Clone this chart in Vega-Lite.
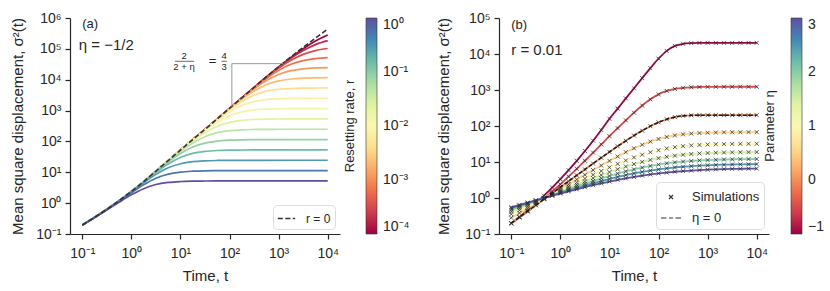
{
"$schema":"https://vega.github.io/schema/vega-lite/v6.json",
"padding":{"left":10,"top":11,"right":2,"bottom":2},
"config":{"font":"Liberation Sans","view":{"stroke":null},
"axis":{"grid":false,"domainColor":"#262626","tickColor":"#262626","labelColor":"#262626","titleColor":"#262626","labelFontSize":14,"titleFontSize":15,"titleFontWeight":"normal","tickSize":5,"labelPadding":4,"domainWidth":1.2,"tickWidth":1.2,"labelFlush":false,"labelOverlap":false},
"axisX":{"titlePadding":8,"labelPadding":7},
"axisY":{"titlePadding":10},
"legend":{"labelColor":"#262626","titleColor":"#262626","titleFontWeight":"normal"}},
"datasets":{
"a":[
{"r":0.0001,"t":0.1,"y":0.195},{"r":0.0001,"t":0.1778,"y":0.347},{"r":0.0001,"t":0.3162,"y":0.631},{"r":0.0001,"t":0.5623,"y":1.202},{"r":0.0001,"t":1,"y":2.399},{"r":0.0001,"t":1.778,"y":5.012},{"r":0.0001,"t":3.162,"y":10.96},{"r":0.0001,"t":5.623,"y":23.99},{"r":0.0001,"t":10,"y":52.48},{"r":0.0001,"t":17.78,"y":114.8},{"r":0.0001,"t":31.62,"y":245.5},{"r":0.0001,"t":56.23,"y":537.0},{"r":0.0001,"t":100,"y":1175},{"r":0.0001,"t":177.8,"y":2570},{"r":0.0001,"t":316.2,"y":5610},{"r":0.0001,"t":562.3,"y":12220},{"r":0.0001,"t":1000,"y":25820},{"r":0.0001,"t":1778,"y":52600},{"r":0.0001,"t":3162,"y":101400},{"r":0.0001,"t":5623,"y":179500},{"r":0.0001,"t":10000,"y":280500},
{"r":0.0001848,"t":0.1,"y":0.195},{"r":0.0001848,"t":0.1778,"y":0.347},{"r":0.0001848,"t":0.3162,"y":0.631},{"r":0.0001848,"t":0.5623,"y":1.202},{"r":0.0001848,"t":1,"y":2.399},{"r":0.0001848,"t":1.778,"y":5.012},{"r":0.0001848,"t":3.162,"y":10.96},{"r":0.0001848,"t":5.623,"y":23.99},{"r":0.0001848,"t":10,"y":52.48},{"r":0.0001848,"t":17.78,"y":114.8},{"r":0.0001848,"t":31.62,"y":245.5},{"r":0.0001848,"t":56.23,"y":537.0},{"r":0.0001848,"t":100,"y":1175},{"r":0.0001848,"t":177.8,"y":2564},{"r":0.0001848,"t":316.2,"y":5572},{"r":0.0001848,"t":562.3,"y":12080},{"r":0.0001848,"t":1000,"y":25120},{"r":0.0001848,"t":1778,"y":49320},{"r":0.0001848,"t":3162,"y":88100},{"r":0.0001848,"t":5623,"y":137400},{"r":0.0001848,"t":10000,"y":184100},
{"r":0.0003415,"t":0.1,"y":0.195},{"r":0.0003415,"t":0.1778,"y":0.347},{"r":0.0003415,"t":0.3162,"y":0.631},{"r":0.0003415,"t":0.5623,"y":1.202},{"r":0.0003415,"t":1,"y":2.399},{"r":0.0003415,"t":1.778,"y":5.012},{"r":0.0003415,"t":3.162,"y":10.96},{"r":0.0003415,"t":5.623,"y":23.99},{"r":0.0003415,"t":10,"y":52.48},{"r":0.0003415,"t":17.78,"y":114.8},{"r":0.0003415,"t":31.62,"y":245.5},{"r":0.0003415,"t":56.23,"y":537.0},{"r":0.0003415,"t":100,"y":1172},{"r":0.0003415,"t":177.8,"y":2553},{"r":0.0003415,"t":316.2,"y":5521},{"r":0.0003415,"t":562.3,"y":11750},{"r":0.0003415,"t":1000,"y":23500},{"r":0.0003415,"t":1778,"y":42460},{"r":0.0003415,"t":3162,"y":66220},{"r":0.0003415,"t":5623,"y":88100},{"r":0.0003415,"t":10000,"y":102800},
{"r":0.000631,"t":0.1,"y":0.195},{"r":0.000631,"t":0.1778,"y":0.347},{"r":0.000631,"t":0.3162,"y":0.631},{"r":0.000631,"t":0.5623,"y":1.202},{"r":0.000631,"t":1,"y":2.399},{"r":0.000631,"t":1.778,"y":5.012},{"r":0.000631,"t":3.162,"y":10.96},{"r":0.000631,"t":5.623,"y":23.99},{"r":0.000631,"t":10,"y":52.48},{"r":0.000631,"t":17.78,"y":114.8},{"r":0.000631,"t":31.62,"y":245.5},{"r":0.000631,"t":56.23,"y":535.8},{"r":0.000631,"t":100,"y":1167},{"r":0.000631,"t":177.8,"y":2523},{"r":0.000631,"t":316.2,"y":5370},{"r":0.000631,"t":562.3,"y":10960},{"r":0.000631,"t":1000,"y":20090},{"r":0.000631,"t":1778,"y":31550},{"r":0.000631,"t":3162,"y":41780},{"r":0.000631,"t":5623,"y":48310},{"r":0.000631,"t":10000,"y":51880},
{"r":0.001166,"t":0.1,"y":0.195},{"r":0.001166,"t":0.1778,"y":0.347},{"r":0.001166,"t":0.3162,"y":0.631},{"r":0.001166,"t":0.5623,"y":1.202},{"r":0.001166,"t":1,"y":2.399},{"r":0.001166,"t":1.778,"y":5.012},{"r":0.001166,"t":3.162,"y":10.96},{"r":0.001166,"t":5.623,"y":23.99},{"r":0.001166,"t":10,"y":52.48},{"r":0.001166,"t":17.78,"y":114.8},{"r":0.001166,"t":31.62,"y":244.9},{"r":0.001166,"t":56.23,"y":533.3},{"r":0.001166,"t":100,"y":1156},{"r":0.001166,"t":177.8,"y":2460},{"r":0.001166,"t":316.2,"y":5023},{"r":0.001166,"t":562.3,"y":9397},{"r":0.001166,"t":1000,"y":14830},{"r":0.001166,"t":1778,"y":19630},{"r":0.001166,"t":3162,"y":22590},{"r":0.001166,"t":5623,"y":24150},{"r":0.001166,"t":10000,"y":24830},
{"r":0.002154,"t":0.1,"y":0.195},{"r":0.002154,"t":0.1778,"y":0.347},{"r":0.002154,"t":0.3162,"y":0.631},{"r":0.002154,"t":0.5623,"y":1.202},{"r":0.002154,"t":1,"y":2.399},{"r":0.002154,"t":1.778,"y":5.012},{"r":0.002154,"t":3.162,"y":10.96},{"r":0.002154,"t":5.623,"y":23.99},{"r":0.002154,"t":10,"y":52.48},{"r":0.002154,"t":17.78,"y":114.6},{"r":0.002154,"t":31.62,"y":243.8},{"r":0.002154,"t":56.23,"y":528.4},{"r":0.002154,"t":100,"y":1125},{"r":0.002154,"t":177.8,"y":2296},{"r":0.002154,"t":316.2,"y":4295},{"r":0.002154,"t":562.3,"y":6887},{"r":0.002154,"t":1000,"y":9162},{"r":0.002154,"t":1778,"y":10540},{"r":0.002154,"t":3162,"y":11220},{"r":0.002154,"t":5623,"y":11510},{"r":0.002154,"t":10000,"y":11640},
{"r":0.003981,"t":0.1,"y":0.195},{"r":0.003981,"t":0.1778,"y":0.347},{"r":0.003981,"t":0.3162,"y":0.631},{"r":0.003981,"t":0.5623,"y":1.202},{"r":0.003981,"t":1,"y":2.399},{"r":0.003981,"t":1.778,"y":5.012},{"r":0.003981,"t":3.162,"y":10.96},{"r":0.003981,"t":5.623,"y":23.99},{"r":0.003981,"t":10,"y":52.36},{"r":0.003981,"t":17.78,"y":114.0},{"r":0.003981,"t":31.62,"y":241.5},{"r":0.003981,"t":56.23,"y":514.0},{"r":0.003981,"t":100,"y":1052},{"r":0.003981,"t":177.8,"y":1972},{"r":0.003981,"t":316.2,"y":3170},{"r":0.003981,"t":562.3,"y":4246},{"r":0.003981,"t":1000,"y":4898},{"r":0.003981,"t":1778,"y":5200},{"r":0.003981,"t":3162,"y":5333},{"r":0.003981,"t":5623,"y":5383},{"r":0.003981,"t":10000,"y":5408},
{"r":0.007356,"t":0.1,"y":0.195},{"r":0.007356,"t":0.1778,"y":0.347},{"r":0.007356,"t":0.3162,"y":0.631},{"r":0.007356,"t":0.5623,"y":1.202},{"r":0.007356,"t":1,"y":2.399},{"r":0.007356,"t":1.778,"y":5.012},{"r":0.007356,"t":3.162,"y":10.96},{"r":0.007356,"t":5.623,"y":23.93},{"r":0.007356,"t":10,"y":52.12},{"r":0.007356,"t":17.78,"y":113.0},{"r":0.007356,"t":31.62,"y":235.0},{"r":0.007356,"t":56.23,"y":482.0},{"r":0.007356,"t":100,"y":905.7},{"r":0.007356,"t":177.8,"y":1459},{"r":0.007356,"t":316.2,"y":1959},{"r":0.007356,"t":562.3,"y":2270},{"r":0.007356,"t":1000,"y":2410},{"r":0.007356,"t":1778,"y":2472},{"r":0.007356,"t":3162,"y":2495},{"r":0.007356,"t":5623,"y":2506},{"r":0.007356,"t":10000,"y":2512},
{"r":0.01359,"t":0.1,"y":0.195},{"r":0.01359,"t":0.1778,"y":0.347},{"r":0.01359,"t":0.3162,"y":0.631},{"r":0.01359,"t":0.5623,"y":1.202},{"r":0.01359,"t":1,"y":2.399},{"r":0.01359,"t":1.778,"y":5.012},{"r":0.01359,"t":3.162,"y":10.94},{"r":0.01359,"t":5.623,"y":23.82},{"r":0.01359,"t":10,"y":51.64},{"r":0.01359,"t":17.78,"y":109.9},{"r":0.01359,"t":31.62,"y":220.3},{"r":0.01359,"t":56.23,"y":415.0},{"r":0.01359,"t":100,"y":669.9},{"r":0.01359,"t":177.8,"y":903.6},{"r":0.01359,"t":316.2,"y":1047},{"r":0.01359,"t":562.3,"y":1114},{"r":0.01359,"t":1000,"y":1143},{"r":0.01359,"t":1778,"y":1153},{"r":0.01359,"t":3162,"y":1159},{"r":0.01359,"t":10000,"y":1161},
{"r":0.02512,"t":0.1,"y":0.195},{"r":0.02512,"t":0.1778,"y":0.347},{"r":0.02512,"t":0.3162,"y":0.631},{"r":0.02512,"t":0.5623,"y":1.202},{"r":0.02512,"t":1,"y":2.399},{"r":0.02512,"t":1.778,"y":5.0},{"r":0.02512,"t":3.162,"y":10.89},{"r":0.02512,"t":5.623,"y":23.61},{"r":0.02512,"t":10,"y":50.23},{"r":0.02512,"t":17.78,"y":103.0},{"r":0.02512,"t":31.62,"y":190.1},{"r":0.02512,"t":56.23,"y":308.3},{"r":0.02512,"t":100,"y":415.9},{"r":0.02512,"t":177.8,"y":483.1},{"r":0.02512,"t":316.2,"y":515.2},{"r":0.02512,"t":562.3,"y":528.4},{"r":0.02512,"t":1000,"y":533.3},{"r":0.02512,"t":1778,"y":535.8},{"r":0.02512,"t":10000,"y":537.0},
{"r":0.04642,"t":0.1,"y":0.195},{"r":0.04642,"t":0.1778,"y":0.347},{"r":0.04642,"t":0.3162,"y":0.631},{"r":0.04642,"t":0.5623,"y":1.202},{"r":0.04642,"t":1,"y":2.393},{"r":0.04642,"t":1.778,"y":4.977},{"r":0.04642,"t":3.162,"y":10.79},{"r":0.04642,"t":5.623,"y":23.01},{"r":0.04642,"t":10,"y":47.1},{"r":0.04642,"t":17.78,"y":88.72},{"r":0.04642,"t":31.62,"y":141.6},{"r":0.04642,"t":56.23,"y":191.9},{"r":0.04642,"t":100,"y":222.8},{"r":0.04642,"t":177.8,"y":238.2},{"r":0.04642,"t":316.2,"y":244.3},{"r":0.04642,"t":562.3,"y":246.6},{"r":0.04642,"t":1000,"y":247.7},{"r":0.04642,"t":10000,"y":248.3},
{"r":0.08577,"t":0.1,"y":0.195},{"r":0.08577,"t":0.1778,"y":0.347},{"r":0.08577,"t":0.3162,"y":0.631},{"r":0.08577,"t":0.5623,"y":1.198},{"r":0.08577,"t":1,"y":2.382},{"r":0.08577,"t":1.778,"y":4.932},{"r":0.08577,"t":3.162,"y":10.52},{"r":0.08577,"t":5.623,"y":21.58},{"r":0.08577,"t":10,"y":40.64},{"r":0.08577,"t":17.78,"y":65.92},{"r":0.08577,"t":31.62,"y":88.51},{"r":0.08577,"t":56.23,"y":103.0},{"r":0.08577,"t":100,"y":109.9},{"r":0.08577,"t":177.8,"y":113.0},{"r":0.08577,"t":316.2,"y":114.0},{"r":0.08577,"t":562.3,"y":114.6},{"r":0.08577,"t":10000,"y":114.8},
{"r":0.1585,"t":0.1,"y":0.195},{"r":0.1585,"t":0.1778,"y":0.346},{"r":0.1585,"t":0.3162,"y":0.629},{"r":0.1585,"t":0.5623,"y":1.193},{"r":0.1585,"t":1,"y":2.358},{"r":0.1585,"t":1.778,"y":4.808},{"r":0.1585,"t":3.162,"y":9.886},{"r":0.1585,"t":5.623,"y":18.66},{"r":0.1585,"t":10,"y":30.27},{"r":0.1585,"t":17.78,"y":41.02},{"r":0.1585,"t":31.62,"y":47.53},{"r":0.1585,"t":56.23,"y":50.82},{"r":0.1585,"t":100,"y":52.24},{"r":0.1585,"t":177.8,"y":52.72},{"r":0.1585,"t":316.2,"y":52.97},{"r":0.1585,"t":10000,"y":53.09},
{"r":0.2929,"t":0.1,"y":0.195},{"r":0.2929,"t":0.1778,"y":0.345},{"r":0.2929,"t":0.3162,"y":0.625},{"r":0.2929,"t":0.5623,"y":1.18},{"r":0.2929,"t":1,"y":2.299},{"r":0.2929,"t":1.778,"y":4.529},{"r":0.2929,"t":3.162,"y":8.551},{"r":0.2929,"t":5.623,"y":13.93},{"r":0.2929,"t":10,"y":18.92},{"r":0.2929,"t":17.78,"y":22.03},{"r":0.2929,"t":31.62,"y":23.5},{"r":0.2929,"t":56.23,"y":24.15},{"r":0.2929,"t":100,"y":24.38},{"r":0.2929,"t":177.8,"y":24.49},{"r":0.2929,"t":10000,"y":24.55},
{"r":0.5412,"t":0.1,"y":0.194},{"r":0.5412,"t":0.1778,"y":0.343},{"r":0.5412,"t":0.3162,"y":0.617},{"r":0.5412,"t":0.5623,"y":1.147},{"r":0.5412,"t":1,"y":2.153},{"r":0.5412,"t":1.778,"y":3.917},{"r":0.5412,"t":3.162,"y":6.397},{"r":0.5412,"t":5.623,"y":8.71},{"r":0.5412,"t":10,"y":10.16},{"r":0.5412,"t":17.78,"y":10.86},{"r":0.5412,"t":31.62,"y":11.17},{"r":0.5412,"t":56.23,"y":11.27},{"r":0.5412,"t":100,"y":11.32},{"r":0.5412,"t":10000,"y":11.35},
{"r":1,"t":0.1,"y":0.192},{"r":1,"t":0.1778,"y":0.338},{"r":1,"t":0.3162,"y":0.597},{"r":1,"t":0.5623,"y":1.069},{"r":1,"t":1,"y":1.858},{"r":1,"t":1.778,"y":2.944},{"r":1,"t":3.162,"y":4.018},{"r":1,"t":5.623,"y":4.688},{"r":1,"t":10,"y":5.023},{"r":1,"t":17.78,"y":5.164},{"r":1,"t":31.62,"y":5.212},{"r":1,"t":56.23,"y":5.236},{"r":1,"t":10000,"y":5.248}
],
"a0":[
{"t":0.1,"y":0.195},{"t":0.1778,"y":0.347},{"t":0.3162,"y":0.631},{"t":0.5623,"y":1.202},{"t":1,"y":2.399},{"t":1.778,"y":5.012},{"t":3.162,"y":10.96},{"t":5.623,"y":23.99},{"t":10,"y":52.48},{"t":17.78,"y":114.8},{"t":31.62,"y":245.5},{"t":56.23,"y":537.0},{"t":100,"y":1175},{"t":177.8,"y":2570},{"t":316.2,"y":5623},{"t":562.3,"y":12300},{"t":1000,"y":26300},{"t":1778,"y":54950},{"t":3162,"y":112200},{"t":5623,"y":223900},{"t":10000,"y":436500}
],
"tri":[{"o":1,"t":111.4,"y":1349},{"o":2,"t":111.4,"y":33110},{"o":3,"t":1242,"y":33110}],
"bars":[{"t":7.76,"t2":18.97,"y":39540},{"t":68.7,"t2":88.1,"y":39540}],
"frac":[{"t":11.83,"y":57150,"s":"2"},{"t":11.83,"y":25290,"s":"2 + η"},{"t":77.6,"y":57150,"s":"4"},{"t":77.6,"y":25290,"s":"3"}],
"eq":[{"t":44.98,"y":39540,"s":"="}],
"ta":[{"t":0.1,"y":660000,"s":"(a)"}],
"ta2":[{"t":0.085,"y":129000,"s":"η = −1/2"}],
"tb":[{"t":0.1,"y":64570,"s":"(b)"}],
"tb2":[{"t":0.1,"y":13180,"s":"r = 0.01"}],
"b":[
{"e":-1,"t":0.1,"y":0.1995},{"e":-1,"t":0.1468,"y":0.297},{"e":-1,"t":0.2154,"y":0.455},{"e":-1,"t":0.3162,"y":0.718},{"e":-1,"t":0.4642,"y":1.167},{"e":-1,"t":0.6813,"y":1.95},{"e":-1,"t":1,"y":3.35},{"e":-1,"t":1.468,"y":5.929},{"e":-1,"t":2.154,"y":10.79},{"e":-1,"t":3.162,"y":20.23},{"e":-1,"t":4.642,"y":39.08},{"e":-1,"t":6.813,"y":77.45},{"e":-1,"t":10,"y":158.5},{"e":-1,"t":14.68,"y":304.1},{"e":-1,"t":21.54,"y":583.4},{"e":-1,"t":31.62,"y":1119},{"e":-1,"t":46.42,"y":2143},{"e":-1,"t":68.13,"y":4055},{"e":-1,"t":100,"y":7413},{"e":-1,"t":146.8,"y":12220},{"e":-1,"t":215.4,"y":16750},{"e":-1,"t":316.2,"y":19190},{"e":-1,"t":464.2,"y":20040},{"e":-1,"t":681.3,"y":20320},{"e":-1,"t":1000,"y":20420},{"e":-1,"t":1468,"y":20420},{"e":-1,"t":2154,"y":20420},{"e":-1,"t":3162,"y":20420},{"e":-1,"t":4642,"y":20420},{"e":-1,"t":6813,"y":20420},{"e":-1,"t":10000,"y":20420},
{"e":-0.5,"t":0.1,"y":0.195},{"e":-0.5,"t":0.1468,"y":0.286},{"e":-0.5,"t":0.2154,"y":0.424},{"e":-0.5,"t":0.3162,"y":0.631},{"e":-0.5,"t":0.4642,"y":0.966},{"e":-0.5,"t":0.6813,"y":1.514},{"e":-0.5,"t":1,"y":2.399},{"e":-0.5,"t":1.468,"y":3.917},{"e":-0.5,"t":2.154,"y":6.457},{"e":-0.5,"t":3.162,"y":10.84},{"e":-0.5,"t":4.642,"y":18.28},{"e":-0.5,"t":6.813,"y":30.83},{"e":-0.5,"t":10,"y":52.24},{"e":-0.5,"t":14.68,"y":87.1},{"e":-0.5,"t":21.54,"y":143.9},{"e":-0.5,"t":31.62,"y":234.4},{"e":-0.5,"t":46.42,"y":369.8},{"e":-0.5,"t":68.13,"y":550.8},{"e":-0.5,"t":100,"y":756.8},{"e":-0.5,"t":146.8,"y":941.9},{"e":-0.5,"t":215.4,"y":1074},{"e":-0.5,"t":316.2,"y":1151},{"e":-0.5,"t":464.2,"y":1191},{"e":-0.5,"t":681.3,"y":1212},{"e":-0.5,"t":1000,"y":1222},{"e":-0.5,"t":1468,"y":1227},{"e":-0.5,"t":2154,"y":1230},{"e":-0.5,"t":3162,"y":1230},{"e":-0.5,"t":4642,"y":1230},{"e":-0.5,"t":6813,"y":1230},{"e":-0.5,"t":10000,"y":1230},
{"e":0,"t":0.1,"y":0.1999},{"e":0,"t":0.1468,"y":0.2934},{"e":0,"t":0.2154,"y":0.4306},{"e":0,"t":0.3162,"y":0.6314},{"e":0,"t":0.4642,"y":0.9262},{"e":0,"t":0.6813,"y":1.358},{"e":0,"t":1,"y":1.99},{"e":0,"t":1.468,"y":2.915},{"e":0,"t":2.154,"y":4.262},{"e":0,"t":3.162,"y":6.224},{"e":0,"t":4.642,"y":9.069},{"e":0,"t":6.813,"y":13.17},{"e":0,"t":10,"y":19.03},{"e":0,"t":14.68,"y":27.31},{"e":0,"t":21.54,"y":38.76},{"e":0,"t":31.62,"y":54.22},{"e":0,"t":46.42,"y":74.27},{"e":0,"t":68.13,"y":98.81},{"e":0,"t":100,"y":126.4},{"e":0,"t":146.8,"y":153.9},{"e":0,"t":215.4,"y":176.8},{"e":0,"t":316.2,"y":191.5},{"e":0,"t":464.2,"y":198.1},{"e":0,"t":681.3,"y":199.8},{"e":0,"t":1000,"y":200},{"e":0,"t":1468,"y":200},{"e":0,"t":2154,"y":200},{"e":0,"t":3162,"y":200},{"e":0,"t":4642,"y":200},{"e":0,"t":6813,"y":200},{"e":0,"t":10000,"y":200},
{"e":0.5,"t":0.1,"y":0.282},{"e":0.5,"t":0.1468,"y":0.383},{"e":0.5,"t":0.2154,"y":0.521},{"e":0.5,"t":0.3162,"y":0.708},{"e":0.5,"t":0.4642,"y":0.962},{"e":0.5,"t":0.6813,"y":1.309},{"e":0.5,"t":1,"y":1.774},{"e":0.5,"t":1.468,"y":2.404},{"e":0.5,"t":2.154,"y":3.266},{"e":0.5,"t":3.162,"y":4.416},{"e":0.5,"t":4.642,"y":5.97},{"e":0.5,"t":6.813,"y":8.017},{"e":0.5,"t":10,"y":10.74},{"e":0.5,"t":14.68,"y":14.22},{"e":0.5,"t":21.54,"y":18.71},{"e":0.5,"t":31.62,"y":24.04},{"e":0.5,"t":46.42,"y":30.2},{"e":0.5,"t":68.13,"y":36.9},{"e":0.5,"t":100,"y":43.55},{"e":0.5,"t":146.8,"y":49.66},{"e":0.5,"t":215.4,"y":54.7},{"e":0.5,"t":316.2,"y":58.61},{"e":0.5,"t":464.2,"y":61.66},{"e":0.5,"t":681.3,"y":63.68},{"e":0.5,"t":1000,"y":65.01},{"e":0.5,"t":1468,"y":65.92},{"e":0.5,"t":2154,"y":66.59},{"e":0.5,"t":3162,"y":66.99},{"e":0.5,"t":4642,"y":67.3},{"e":0.5,"t":6813,"y":67.45},{"e":0.5,"t":10000,"y":67.45},
{"e":1,"t":0.1,"y":0.355},{"e":1,"t":0.1468,"y":0.457},{"e":1,"t":0.2154,"y":0.59},{"e":1,"t":0.3162,"y":0.762},{"e":1,"t":0.4642,"y":0.982},{"e":1,"t":0.6813,"y":1.271},{"e":1,"t":1,"y":1.637},{"e":1,"t":1.468,"y":2.104},{"e":1,"t":2.154,"y":2.704},{"e":1,"t":3.162,"y":3.467},{"e":1,"t":4.642,"y":4.426},{"e":1,"t":6.813,"y":5.623},{"e":1,"t":10,"y":7.096},{"e":1,"t":14.68,"y":8.892},{"e":1,"t":21.54,"y":11.02},{"e":1,"t":31.62,"y":13.4},{"e":1,"t":46.42,"y":16.0},{"e":1,"t":68.13,"y":18.66},{"e":1,"t":100,"y":21.28},{"e":1,"t":146.8,"y":23.77},{"e":1,"t":215.4,"y":25.82},{"e":1,"t":316.2,"y":27.54},{"e":1,"t":464.2,"y":28.84},{"e":1,"t":681.3,"y":29.85},{"e":1,"t":1000,"y":30.62},{"e":1,"t":1468,"y":31.12},{"e":1,"t":2154,"y":31.48},{"e":1,"t":3162,"y":31.77},{"e":1,"t":4642,"y":31.95},{"e":1,"t":6813,"y":32.1},{"e":1,"t":10000,"y":32.17},
{"e":1.5,"t":0.1,"y":0.417},{"e":1.5,"t":0.1468,"y":0.519},{"e":1.5,"t":0.2154,"y":0.646},{"e":1.5,"t":0.3162,"y":0.802},{"e":1.5,"t":0.4642,"y":0.998},{"e":1.5,"t":0.6813,"y":1.236},{"e":1.5,"t":1,"y":1.538},{"e":1.5,"t":1.468,"y":1.901},{"e":1.5,"t":2.154,"y":2.344},{"e":1.5,"t":3.162,"y":2.884},{"e":1.5,"t":4.642,"y":3.548},{"e":1.5,"t":6.813,"y":4.325},{"e":1.5,"t":10,"y":5.236},{"e":1.5,"t":14.68,"y":6.295},{"e":1.5,"t":21.54,"y":7.482},{"e":1.5,"t":31.62,"y":8.75},{"e":1.5,"t":46.42,"y":10.09},{"e":1.5,"t":68.13,"y":11.43},{"e":1.5,"t":100,"y":12.76},{"e":1.5,"t":146.8,"y":13.96},{"e":1.5,"t":215.4,"y":15.03},{"e":1.5,"t":316.2,"y":15.92},{"e":1.5,"t":464.2,"y":16.67},{"e":1.5,"t":681.3,"y":17.3},{"e":1.5,"t":1000,"y":17.74},{"e":1.5,"t":1468,"y":18.07},{"e":1.5,"t":2154,"y":18.32},{"e":1.5,"t":3162,"y":18.54},{"e":1.5,"t":4642,"y":18.66},{"e":1.5,"t":6813,"y":18.77},{"e":1.5,"t":10000,"y":18.86},
{"e":2,"t":0.1,"y":0.471},{"e":2,"t":0.1468,"y":0.569},{"e":2,"t":0.2154,"y":0.689},{"e":2,"t":0.3162,"y":0.832},{"e":2,"t":0.4642,"y":1.002},{"e":2,"t":0.6813,"y":1.211},{"e":2,"t":1,"y":1.455},{"e":2,"t":1.468,"y":1.746},{"e":2,"t":2.154,"y":2.094},{"e":2,"t":3.162,"y":2.495},{"e":2,"t":4.642,"y":2.958},{"e":2,"t":6.813,"y":3.508},{"e":2,"t":10,"y":4.102},{"e":2,"t":14.68,"y":4.775},{"e":2,"t":21.54,"y":5.495},{"e":2,"t":31.62,"y":6.237},{"e":2,"t":46.42,"y":6.982},{"e":2,"t":68.13,"y":7.78},{"e":2,"t":100,"y":8.492},{"e":2,"t":146.8,"y":9.162},{"e":2,"t":215.4,"y":9.75},{"e":2,"t":316.2,"y":10.26},{"e":2,"t":464.2,"y":10.67},{"e":2,"t":681.3,"y":11.04},{"e":2,"t":1000,"y":11.32},{"e":2,"t":1468,"y":11.53},{"e":2,"t":2154,"y":11.72},{"e":2,"t":3162,"y":11.86},{"e":2,"t":4642,"y":11.97},{"e":2,"t":6813,"y":12.05},{"e":2,"t":10000,"y":12.11},
{"e":2.5,"t":0.1,"y":0.516},{"e":2.5,"t":0.1468,"y":0.611},{"e":2.5,"t":0.2154,"y":0.721},{"e":2.5,"t":0.3162,"y":0.851},{"e":2.5,"t":0.4642,"y":1.005},{"e":2.5,"t":0.6813,"y":1.18},{"e":2.5,"t":1,"y":1.387},{"e":2.5,"t":1.468,"y":1.626},{"e":2.5,"t":2.154,"y":1.897},{"e":2.5,"t":3.162,"y":2.208},{"e":2.5,"t":4.642,"y":2.564},{"e":2.5,"t":6.813,"y":2.951},{"e":2.5,"t":10,"y":3.381},{"e":2.5,"t":14.68,"y":3.837},{"e":2.5,"t":21.54,"y":4.315},{"e":2.5,"t":31.62,"y":4.808},{"e":2.5,"t":46.42,"y":5.297},{"e":2.5,"t":68.13,"y":5.768},{"e":2.5,"t":100,"y":6.237},{"e":2.5,"t":146.8,"y":6.653},{"e":2.5,"t":215.4,"y":7.047},{"e":2.5,"t":316.2,"y":7.379},{"e":2.5,"t":464.2,"y":7.656},{"e":2.5,"t":681.3,"y":7.907},{"e":2.5,"t":1000,"y":8.11},{"e":2.5,"t":1468,"y":8.279},{"e":2.5,"t":2154,"y":8.414},{"e":2.5,"t":3162,"y":8.511},{"e":2.5,"t":4642,"y":8.59},{"e":2.5,"t":6813,"y":8.67},{"e":2.5,"t":10000,"y":8.73},
{"e":3,"t":0.1,"y":0.553},{"e":3,"t":0.1468,"y":0.643},{"e":3,"t":0.2154,"y":0.745},{"e":3,"t":0.3162,"y":0.863},{"e":3,"t":0.4642,"y":0.998},{"e":3,"t":0.6813,"y":1.153},{"e":3,"t":1,"y":1.33},{"e":3,"t":1.468,"y":1.528},{"e":3,"t":2.154,"y":1.746},{"e":3,"t":3.162,"y":1.991},{"e":3,"t":4.642,"y":2.265},{"e":3,"t":6.813,"y":2.547},{"e":3,"t":10,"y":2.864},{"e":3,"t":14.68,"y":3.184},{"e":3,"t":21.54,"y":3.516},{"e":3,"t":31.62,"y":3.846},{"e":3,"t":46.42,"y":4.188},{"e":3,"t":68.13,"y":4.508},{"e":3,"t":100,"y":4.819},{"e":3,"t":146.8,"y":5.093},{"e":3,"t":215.4,"y":5.358},{"e":3,"t":316.2,"y":5.585},{"e":3,"t":464.2,"y":5.781},{"e":3,"t":681.3,"y":5.943},{"e":3,"t":1000,"y":6.109},{"e":3,"t":1468,"y":6.223},{"e":3,"t":2154,"y":6.324},{"e":3,"t":3162,"y":6.412},{"e":3,"t":4642,"y":6.471},{"e":3,"t":6813,"y":6.531},{"e":3,"t":10000,"y":6.577}
]
},
"spacing":26,
"resolve":{"scale":{"color":"independent","shape":"independent","strokeDash":"independent","x":"independent","y":"independent"},"legend":{"color":"independent","shape":"independent","strokeDash":"independent"}},
"hconcat":[
{"width":270,"height":216,
"layer":[
{"data":{"name":"a"},"mark":{"type":"line","strokeWidth":1.7,"interpolate":"monotone"},
"encoding":{
"x":{"field":"t","type":"quantitative","scale":{"type":"log","domain":[0.05623,17783],"nice":false},"axis":{"values":[0.1,1,10,100,1000,10000],"title":"Time, t","labelExpr":"'10' + (datum.value < 0.99 ? '⁻' : '') + substring('⁰¹²³⁴⁵⁶⁷⁸⁹', abs(round(log(datum.value)/LN10)), abs(round(log(datum.value)/LN10)) + 1)"}},
"y":{"field":"y","type":"quantitative","scale":{"type":"log","domain":[0.1,1000000],"nice":false},"axis":{"values":[0.1,1,10,100,1000,10000,100000,1000000],"title":"Mean square displacement, σ²(t)","labelExpr":"'10' + (datum.value < 0.99 ? '⁻' : '') + substring('⁰¹²³⁴⁵⁶⁷⁸⁹', abs(round(log(datum.value)/LN10)), abs(round(log(datum.value)/LN10)) + 1)"}},
"color":{"field":"r","type":"quantitative","scale":{"type":"log","domain":[0.0001,1],"scheme":"spectral"},
"legend":{"type":"gradient","orient":"right","direction":"vertical","offset":4,"gradientLength":216,"gradientThickness":11,"gradientStrokeColor":"#333","gradientStrokeWidth":0.6,"title":"Resetting rate, r","titleOrient":"left","titleAngle":270,"titleAnchor":"middle","titleBaseline":"bottom","titleFontSize":13,"titlePadding":-5,"labelFontSize":14,"labelBaseline":"middle","labelOffset":6,"values":[0.0001,0.001,0.01,0.1,1],"labelExpr":"'10' + (datum.value < 0.99 ? '⁻' : '') + substring('⁰¹²³⁴⁵⁶⁷⁸⁹', abs(round(log(datum.value)/LN10)), abs(round(log(datum.value)/LN10)) + 1)"}},
"detail":{"field":"r","type":"quantitative"}}},
{"data":{"name":"a0"},"mark":{"type":"line","color":"#333333","strokeWidth":1.6,"interpolate":"monotone"},
"encoding":{"x":{"field":"t","type":"quantitative"},"y":{"field":"y","type":"quantitative"},
"strokeDash":{"datum":"r = 0","type":"nominal","scale":{"domain":["r = 0"],"range":[[5,2.5]]},
"legend":{"orient":"bottom-right","title":null,"offset":5,"fillColor":"white","strokeColor":"#dddddd","cornerRadius":4,"padding":4,"labelFontSize":12,"symbolStrokeColor":"#333333","symbolStrokeWidth":1.6,"symbolSize":300,"labelOffset":10}}}},
{"data":{"name":"tri"},"mark":{"type":"line","color":"#9a9a9a","strokeWidth":1},
"encoding":{"x":{"field":"t","type":"quantitative"},"y":{"field":"y","type":"quantitative"},"order":{"field":"o","type":"quantitative"}}},
{"data":{"name":"bars"},"mark":{"type":"rule","color":"#262626","strokeWidth":0.7},
"encoding":{"x":{"field":"t","type":"quantitative"},"x2":{"field":"t2"},"y":{"field":"y","type":"quantitative"}}},
{"data":{"name":"frac"},"mark":{"type":"text","fontSize":9.5,"align":"center","baseline":"middle","color":"#262626"},
"encoding":{"x":{"field":"t","type":"quantitative"},"y":{"field":"y","type":"quantitative"},"text":{"field":"s"}}},
{"data":{"name":"eq"},"mark":{"type":"text","fontSize":13,"align":"center","baseline":"middle","color":"#262626"},
"encoding":{"x":{"field":"t","type":"quantitative"},"y":{"field":"y","type":"quantitative"},"text":{"field":"s"}}},
{"data":{"name":"ta"},"mark":{"type":"text","fontSize":13,"align":"left","baseline":"middle","color":"#262626"},
"encoding":{"x":{"field":"t","type":"quantitative"},"y":{"field":"y","type":"quantitative"},"text":{"field":"s"}}},
{"data":{"name":"ta2"},"mark":{"type":"text","fontSize":15,"align":"left","baseline":"middle","color":"#262626"},
"encoding":{"x":{"field":"t","type":"quantitative"},"y":{"field":"y","type":"quantitative"},"text":{"field":"s"}}}
]},
{"width":270,"height":216,
"layer":[
{"data":{"name":"b"},"mark":{"type":"line","strokeWidth":1.8,"interpolate":"monotone"},
"encoding":{
"x":{"field":"t","type":"quantitative","scale":{"type":"log","domain":[0.05623,17783],"nice":false},"axis":{"values":[0.1,1,10,100,1000,10000],"title":"Time, t","labelExpr":"'10' + (datum.value < 0.99 ? '⁻' : '') + substring('⁰¹²³⁴⁵⁶⁷⁸⁹', abs(round(log(datum.value)/LN10)), abs(round(log(datum.value)/LN10)) + 1)"}},
"y":{"field":"y","type":"quantitative","scale":{"type":"log","domain":[0.1,100000],"nice":false},"axis":{"values":[0.1,1,10,100,1000,10000,100000],"title":"Mean square displacement, σ²(t)","titlePadding":13,"labelExpr":"'10' + (datum.value < 0.99 ? '⁻' : '') + substring('⁰¹²³⁴⁵⁶⁷⁸⁹', abs(round(log(datum.value)/LN10)), abs(round(log(datum.value)/LN10)) + 1)"}},
"color":{"field":"e","type":"quantitative","scale":{"domain":[-1,3],"scheme":"spectral"},
"legend":{"type":"gradient","orient":"right","direction":"vertical","offset":-5,"gradientLength":216,"gradientThickness":11,"gradientStrokeColor":"#333","gradientStrokeWidth":0.6,"title":"Parameter η","titleOrient":"left","titleAngle":270,"titleAnchor":"middle","titleBaseline":"bottom","titleFontSize":13,"titlePadding":0,"labelFontSize":14,"labelBaseline":"middle","labelOffset":6,"values":[-1,0,1,2,3]}},
"detail":{"field":"e","type":"quantitative"}}},
{"data":{"name":"b"},"mark":{"type":"point","filled":false,"stroke":"#333333","strokeWidth":0.8,"size":400,"opacity":1},
"encoding":{"x":{"field":"t","type":"quantitative"},"y":{"field":"y","type":"quantitative"},
"shape":{"datum":"Simulations","type":"nominal","scale":{"domain":["Simulations","η = 0"],"range":["M-0.2,-0.2L0.2,0.2M-0.2,0.2L0.2,-0.2","M-1,0L-0.45,0M-0.2,0L0.2,0M0.45,0L1,0"]},
"legend":{"orient":"bottom-right","title":null,"offset":5,"fillColor":"white","strokeColor":"#dddddd","cornerRadius":4,"padding":4,"rowPadding":3,"labelFontSize":13,"symbolStrokeColor":"#333333","symbolFillColor":"transparent","symbolStrokeWidth":1.1,"symbolSize":400,"labelOffset":10}}}},
{"data":{"name":"b"},"transform":[{"filter":"datum.e == 0"}],"mark":{"type":"line","color":"#1a1a1a","strokeWidth":1.5,"strokeDash":[4,2],"interpolate":"monotone"},
"encoding":{"x":{"field":"t","type":"quantitative"},"y":{"field":"y","type":"quantitative"}}},
{"data":{"name":"tb"},"mark":{"type":"text","fontSize":13,"align":"left","baseline":"middle","color":"#262626"},
"encoding":{"x":{"field":"t","type":"quantitative"},"y":{"field":"y","type":"quantitative"},"text":{"field":"s"}}},
{"data":{"name":"tb2"},"mark":{"type":"text","fontSize":15,"align":"left","baseline":"middle","color":"#262626"},
"encoding":{"x":{"field":"t","type":"quantitative"},"y":{"field":"y","type":"quantitative"},"text":{"field":"s"}}}
]}
]
}
